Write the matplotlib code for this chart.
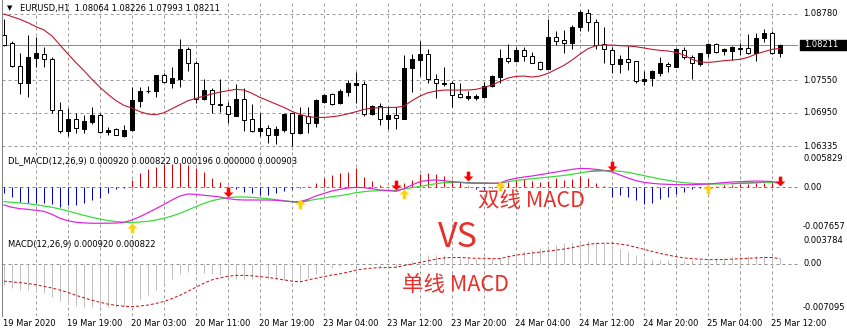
import matplotlib
matplotlib.use("Agg")
import matplotlib.pyplot as plt
from matplotlib.path import Path
from matplotlib.patches import Rectangle
from matplotlib.lines import Line2D
import matplotlib.transforms as mtransforms
import numpy as np

plt.rcParams['lines.scale_dashes'] = False
plt.rcParams['font.family'] = ['DejaVu Sans']

# ---------------- data ----------------
opens = [1.08391, 1.08249, 1.07817, 1.07497, 1.07972, 1.08039, 1.07941, 1.07003, 1.06620, 1.06837,
         1.06651, 1.06787, 1.06911, 1.06602, 1.06657, 1.06522, 1.06633, 1.07176, 1.07361, 1.07361,
         1.07651, 1.07509, 1.07583, 1.08126, 1.07879, 1.07200, 1.07373, 1.07089, 1.07077, 1.06899,
         1.07200, 1.06837, 1.06608, 1.06670, 1.06534, 1.06633, 1.06941, 1.06583, 1.06892, 1.06756,
         1.07157, 1.07300, 1.07126, 1.07343, 1.07472, 1.07484, 1.06929, 1.07077, 1.06830, 1.06911,
         1.06837, 1.07774, 1.07928, 1.08039, 1.07571, 1.07497, 1.07497, 1.07293, 1.07231, 1.07219,
         1.07237, 1.07447, 1.07620, 1.07959, 1.07916, 1.08114, 1.08002, 1.07885, 1.07762, 1.08348,
         1.08299, 1.08237, 1.08533, 1.08805, 1.08638, 1.08225, 1.08114, 1.07848, 1.07941, 1.07910,
         1.07540, 1.07589, 1.07694, 1.07854, 1.07805, 1.08114, 1.07978, 1.07854, 1.08052, 1.08218,
         1.08095, 1.08101, 1.08144, 1.08157, 1.08064, 1.08329, 1.08422, 1.08064]
highs = [1.08687, 1.08286, 1.08052, 1.08391, 1.08348, 1.08163, 1.07990, 1.07157, 1.07034, 1.06941,
         1.06911, 1.07052, 1.06941, 1.06694, 1.06670, 1.06725, 1.07435, 1.07423, 1.07447, 1.07651,
         1.07694, 1.07805, 1.08311, 1.08175, 1.07916, 1.07571, 1.07404, 1.07583, 1.07157, 1.07484,
         1.07404, 1.07114, 1.06941, 1.06725, 1.06707, 1.06941, 1.06954, 1.07052, 1.07065, 1.07200,
         1.07300, 1.07312, 1.07386, 1.07558, 1.07700, 1.07540, 1.07096, 1.07126, 1.07077, 1.07052,
         1.08021, 1.08033, 1.08280, 1.08126, 1.07669, 1.07805, 1.07540, 1.07497, 1.07361, 1.07300,
         1.07527, 1.07651, 1.08126, 1.08225, 1.08175, 1.08175, 1.08083, 1.07916, 1.08681, 1.08471,
         1.08484, 1.08576, 1.08854, 1.08866, 1.08681, 1.08533, 1.08175, 1.08021, 1.08188, 1.07916,
         1.07731, 1.07743, 1.07978, 1.07898, 1.08144, 1.08163, 1.08021, 1.08064, 1.08249, 1.08237,
         1.08157, 1.08188, 1.08237, 1.08410, 1.08422, 1.08496, 1.08471, 1.08226]
lows = [1.08188, 1.07805, 1.07300, 1.07250, 1.07805, 1.07805, 1.06941, 1.06583, 1.06522, 1.06571,
        1.06571, 1.06744, 1.06571, 1.06540, 1.06534, 1.06509, 1.06620, 1.07065, 1.07312, 1.07250,
        1.07497, 1.07404, 1.07423, 1.07731, 1.07126, 1.07188, 1.06941, 1.06972, 1.06756, 1.06892,
        1.06620, 1.06602, 1.06522, 1.06386, 1.06373, 1.06602, 1.06336, 1.06559, 1.06571, 1.06682,
        1.07126, 1.07096, 1.07114, 1.07262, 1.07139, 1.06892, 1.06911, 1.06725, 1.06645, 1.06645,
        1.06830, 1.07343, 1.07632, 1.07497, 1.07231, 1.07447, 1.07052, 1.07219, 1.07188, 1.07188,
        1.07219, 1.07435, 1.07509, 1.07867, 1.07898, 1.07916, 1.07867, 1.07743, 1.07756, 1.08206,
        1.08064, 1.08126, 1.08471, 1.08471, 1.08126, 1.07879, 1.07682, 1.07694, 1.07743, 1.07509,
        1.07466, 1.07447, 1.07632, 1.07712, 1.07805, 1.07941, 1.07577, 1.07817, 1.07978, 1.08064,
        1.08021, 1.07928, 1.08021, 1.08039, 1.07916, 1.08268, 1.08033, 1.07993]
closes = [1.08206, 1.07817, 1.07497, 1.07990, 1.08052, 1.07941, 1.07003, 1.06620, 1.06837, 1.06664,
          1.06799, 1.06911, 1.06590, 1.06633, 1.06540, 1.06633, 1.07188, 1.07355, 1.07355, 1.07651,
          1.07521, 1.07595, 1.08132, 1.07867, 1.07200, 1.07373, 1.07114, 1.07108, 1.06929, 1.07200,
          1.06818, 1.06614, 1.06670, 1.06540, 1.06651, 1.06929, 1.06583, 1.06911, 1.06768, 1.07188,
          1.07281, 1.07114, 1.07361, 1.07497, 1.07497, 1.06923, 1.07077, 1.06830, 1.06911, 1.06849,
          1.07774, 1.07947, 1.08039, 1.07571, 1.07497, 1.07478, 1.07281, 1.07250, 1.07262, 1.07262,
          1.07447, 1.07632, 1.07959, 1.07910, 1.08114, 1.08002, 1.07879, 1.07762, 1.08348, 1.08286,
          1.08237, 1.08533, 1.08823, 1.08638, 1.08206, 1.08126, 1.07848, 1.07941, 1.07898, 1.07540,
          1.07571, 1.07725, 1.07867, 1.07817, 1.08126, 1.07978, 1.07867, 1.08052, 1.08218, 1.08083,
          1.08126, 1.08163, 1.08138, 1.08064, 1.08329, 1.08422, 1.08052, 1.08211]
ma = [1.08780, 1.08731, 1.08681, 1.08619, 1.08545, 1.08484, 1.08373, 1.08206, 1.08039, 1.07879,
      1.07731, 1.07571, 1.07423, 1.07293, 1.07176, 1.07089, 1.07040, 1.06972, 1.06929, 1.06917,
      1.06954, 1.07028, 1.07102, 1.07176, 1.07219, 1.07262, 1.07300, 1.07336, 1.07361, 1.07386,
      1.07373, 1.07312, 1.07237, 1.07176, 1.07114, 1.07052, 1.06978, 1.06923, 1.06880, 1.06867,
      1.06867, 1.06880, 1.06899, 1.06935, 1.06972, 1.07015, 1.07040, 1.07046, 1.07052, 1.07052,
      1.07077, 1.07176, 1.07262, 1.07324, 1.07355, 1.07373, 1.07373, 1.07373, 1.07373, 1.07386,
      1.07423, 1.07466, 1.07534, 1.07595, 1.07626, 1.07632, 1.07614, 1.07632, 1.07682, 1.07756,
      1.07830, 1.07928, 1.08039, 1.08138, 1.08194, 1.08206, 1.08206, 1.08194, 1.08188, 1.08175,
      1.08151, 1.08126, 1.08107, 1.08095, 1.08070, 1.08021, 1.07941, 1.07891, 1.07885, 1.07898,
      1.07916, 1.07928, 1.07941, 1.07978, 1.08039, 1.08083, 1.08126, 1.08144]

macd = [-0.00347, -0.00393, -0.00420, -0.00433, -0.00453, -0.00473, -0.00532, -0.00611, -0.00660, -0.00690,
        -0.00702, -0.00709, -0.00709, -0.00708, -0.00705, -0.00690, -0.00645, -0.00578, -0.00499, -0.00420,
        -0.00334, -0.00248, -0.00169, -0.00129, -0.00136, -0.00155, -0.00169, -0.00188, -0.00221, -0.00241,
        -0.00248, -0.00248, -0.00248, -0.00248, -0.00254, -0.00268, -0.00281, -0.00281, -0.00235, -0.00169,
        -0.00116, -0.00069, -0.00036, -0.00010, 0.00003, -0.00003, -0.00023, -0.00050, -0.00060, -0.00076,
        -0.00023, 0.00050, 0.00116, 0.00142, 0.00149, 0.00136, 0.00116, 0.00102, 0.00089, 0.00083,
        0.00083, 0.00083, 0.00089, 0.00149, 0.00182, 0.00208, 0.00228, 0.00254, 0.00281, 0.00307,
        0.00334, 0.00360, 0.00378, 0.00375, 0.00360, 0.00340, 0.00307, 0.00248, 0.00188, 0.00136,
        0.00102, 0.00083, 0.00069, 0.00063, 0.00056, 0.00056, 0.00056, 0.00063, 0.00069, 0.00083,
        0.00096, 0.00109, 0.00116, 0.00122, 0.00129, 0.00125, 0.00118, 0.00092]
signal = [-0.00281, -0.00294, -0.00307, -0.00321, -0.00340, -0.00367, -0.00393, -0.00426, -0.00466, -0.00512,
          -0.00552, -0.00592, -0.00625, -0.00655, -0.00675, -0.00690, -0.00695, -0.00685, -0.00670, -0.00644,
          -0.00611, -0.00565, -0.00512, -0.00446, -0.00380, -0.00314, -0.00261, -0.00228, -0.00202, -0.00188,
          -0.00188, -0.00195, -0.00208, -0.00221, -0.00241, -0.00261, -0.00281, -0.00294, -0.00261, -0.00235,
          -0.00208, -0.00182, -0.00162, -0.00136, -0.00102, -0.00083, -0.00069, -0.00063, -0.00060, -0.00056,
          -0.00030, -0.00003, 0.00023, 0.00050, 0.00076, 0.00096, 0.00102, 0.00102, 0.00096, 0.00089,
          0.00089, 0.00083, 0.00085, 0.00115, 0.00140, 0.00158, 0.00175, 0.00190, 0.00206, 0.00222,
          0.00240, 0.00262, 0.00290, 0.00315, 0.00330, 0.00334, 0.00334, 0.00321, 0.00301, 0.00268,
          0.00235, 0.00202, 0.00169, 0.00142, 0.00116, 0.00096, 0.00083, 0.00076, 0.00069, 0.00069,
          0.00069, 0.00076, 0.00083, 0.00089, 0.00096, 0.00102, 0.00102, 0.000822]
dl_hist = [-0.00102, -0.00182, -0.00281, -0.00301, -0.00314, -0.00314, -0.00327, -0.00380, -0.00347, -0.00347,
           -0.00314, -0.00248, -0.00215, -0.00116, -0.00036, -0.00017, 0.00149, 0.00281, 0.00360, 0.00413,
           0.00466, 0.00466, 0.00479, 0.00446, 0.00380, 0.00314, 0.00182, 0.00102, 0.00030, -0.00036,
           -0.00083, -0.00116, -0.00149, -0.00149, -0.00102, -0.00063, -0.00023, -0.00003, 0.00030, 0.00083,
           0.00182, 0.00248, 0.00281, 0.00314, 0.00380, 0.00215, 0.00136, 0.00050, 0.00017, -0.00017,
           0.00083, 0.00149, 0.00268, 0.00281, 0.00268, 0.00228, 0.00149, 0.00116, 0.00030, -0.00023,
           -0.00036, -0.00017, 0.00003, 0.00116, 0.00149, 0.00162, 0.00136, 0.00116, 0.00136, 0.00182,
           0.00149, 0.00162, 0.00228, 0.00182, 0.00096, 0.00030, -0.00182, -0.00149, -0.00182, -0.00248,
           -0.00327, -0.00301, -0.00235, -0.00182, -0.00129, -0.00083, -0.00036, -0.00017, -0.00003, 0.00030,
           0.00043, 0.00056, 0.00063, 0.00063, 0.00083, 0.00096, 0.00083, 0.000196]

sell_bar = [28, 49, 58, 76, 97]
sell_val = [-0.00089, 0.00059, 0.00228, 0.00430, 0.00125]
buy_bar = [16, 37, 50, 62, 88]
buy_val = [-0.00809, -0.00337, -0.00125, 0.00030, -0.00030]
gray_from = [36, 56, 73, 91]
gray_to = [38, 61, 76, 95]

price_levels = [1.08780, 1.07550, 1.06950, 1.06335]
price_labels = ["1.08780", "1.07550", "1.06950", "1.06335"]
bid = 1.08211
dl_levels = [0.005829, 0.0, -0.007657]
dl_labels = ["0.005829", "0.00", "-0.007657"]
m_levels = [0.003784, 0.0, -0.007095]
m_labels = ["0.003784", "0.00", "-0.007095"]

time_bars = [8, 16, 24, 32, 40, 48, 56, 64, 72, 80, 88, 96]
time_labels = ["19 Mar 19:00", "20 Mar 03:00", "20 Mar 11:00", "20 Mar 19:00", "23 Mar 04:00",
               "23 Mar 12:00", "23 Mar 20:00", "24 Mar 04:00", "24 Mar 12:00", "24 Mar 20:00",
               "25 Mar 04:00", "25 Mar 12:00"]
first_label = "19 Mar 2020"
grid_bars = list(range(4, 100, 4))

main_title = "EURUSD,H1  1.08064 1.08226 1.07993 1.08211"
dl_title = "DL_MACD(12,26,9) 0.000920 0.000822 0.000196 0.000000 0.000903"
m_title = "MACD(12,26,9) 0.000920 0.000822"

# ---------------- figure ----------------
W, H = 847, 332
PX = 0.72          # points per pixel at dpi 100
fig = plt.figure(figsize=(W / 100, H / 100), dpi=100)
fig.patch.set_facecolor("white")

X0, X1 = 2, 798
def add_ax(y0, y1, ylim):
    ax = fig.add_axes([X0 / W, 1 - y1 / H, (X1 - X0) / W, (y1 - y0) / H])
    ax.set_axis_off()
    ax.set_xlim(-0.25, 99.25)
    ax.set_ylim(*ylim)
    return ax

ax_p = add_ax(0, 150, (1.06264, 1.09039))
ax_d = add_ax(150, 233, (-0.009023, 0.007436))
ax_m = add_ax(233, 316, (-0.008477, 0.005002))

GRID = "#9a9a9a"
DASH = (0, (3 * PX, 3 * PX))
FS = 6

for ax in (ax_p, ax_d, ax_m):
    for g in grid_bars:
        ax.axvline(g, color=GRID, lw=PX, linestyle=DASH, zorder=1)

def right_label(ax, val, text):
    ax.annotate(text, xy=(1, val), xycoords=("axes fraction", "data"),
                xytext=(5 * PX, 0), textcoords="offset points", ha="left", va="center",
                fontsize=FS, annotation_clip=False)

# price panel
k = np.arange(len(closes))
o = np.array(opens); c = np.array(closes); hi = np.array(highs); lo = np.array(lows)
for lv, lb in zip(price_levels, price_labels):
    ax_p.axhline(lv, color=GRID, lw=PX, linestyle=DASH, zorder=1)
    right_label(ax_p, lv, lb)
ax_p.axhline(bid, color="#8c8c8c", lw=PX, zorder=1)
ax_p.vlines(k, lo, hi, color="black", lw=PX, zorder=3)
bull = c > o
ax_p.bar(k, np.maximum(np.abs(c - o), 0.00002), bottom=np.minimum(o, c), width=0.5,
         color=np.where(bull, "black", "white"), edgecolor="black", linewidth=PX, zorder=4)
ax_p.plot(k, ma, color="#c0152a", lw=PX * 1.1, zorder=5)

blend = mtransforms.blended_transform_factory(fig.transFigure, ax_p.transData)
ax_p.add_artist(Rectangle((800 / W, bid - 0.00095), 47 / W, 0.0019, transform=blend,
                          color="black", clip_on=False, zorder=6))
ax_p.annotate(f"{bid:.5f}", xy=(1, bid), xycoords=("axes fraction", "data"),
              xytext=(6 * PX, 0), textcoords="offset points", ha="left", va="center",
              fontsize=FS, color="white", annotation_clip=False, zorder=7)
ax_p.annotate(main_title, xy=(0, 1), xycoords="axes fraction", xytext=(18 * PX, -8 * PX),
              textcoords="offset points", ha="left", va="center", fontsize=FS)
ax_p.annotate("\u25BC", xy=(0, 1), xycoords="axes fraction", xytext=(5 * PX, -8.5 * PX),
              textcoords="offset points", ha="left", va="center", fontsize=5)

# DL_MACD panel
h = np.array(dl_hist)
ax_d.axhline(0, color="#808080", lw=PX, linestyle=DASH, zorder=1)
ax_d.vlines(k, 0, h, colors=np.where(h >= 0, "#dd0000", "#0000cc"), lw=PX, zorder=2)
ax_d.plot(k, signal, color="#33dd33", lw=PX * 1.2, zorder=3)
ax_d.plot(k, macd, color="#e020e0", lw=PX * 1.2, zorder=4)
sig = np.array(signal)
for a, b in zip(gray_from, gray_to):
    ax_d.plot(k[a:b + 1], sig[a:b + 1], color="#808080", lw=PX * 1.2, zorder=5)
for lv, lb in zip(dl_levels, dl_labels):
    right_label(ax_d, lv, lb)

down = Path([(-0.18, 0.5), (0.18, 0.5), (0.18, 0.0), (0.5, 0.0), (0.0, -0.5), (-0.5, 0.0),
             (-0.18, 0.0), (-0.18, 0.5)],
            [Path.MOVETO] + [Path.LINETO] * 6 + [Path.CLOSEPOLY])
up = Path([(x, -y) for x, y in down.vertices], down.codes)
ax_d.plot(sell_bar, sell_val, linestyle="none", marker=down, markersize=7, color="#ff0000",
          markeredgewidth=0, zorder=6, clip_on=False)
ax_d.plot(buy_bar, buy_val, linestyle="none", marker=up, markersize=7, color="#ffd200",
          markeredgewidth=0, zorder=6, clip_on=False)
ax_d.annotate(dl_title, xy=(0, 1), xycoords="axes fraction", xytext=(6 * PX, -11 * PX),
              textcoords="offset points", ha="left", va="center", fontsize=FS)

# MACD panel
ax_m.axhline(0, color="#909090", lw=PX, linestyle=DASH, zorder=1)
ax_m.vlines(k, 0, macd, color="#c0c0c0", lw=PX, zorder=2)
ax_m.plot(k, signal, color="#cc1111", lw=PX, linestyle=(0, (3 * PX, 2 * PX)), zorder=3)
for lv, lb in zip(m_levels, m_labels):
    right_label(ax_m, lv, lb)
ax_m.annotate(m_title, xy=(0, 1), xycoords="axes fraction", xytext=(6 * PX, -11 * PX),
              textcoords="offset points", ha="left", va="center", fontsize=FS)

# time axis
ax_m.annotate(first_label, xy=(0, 0), xycoords="axes fraction", xytext=(1 * PX, -7 * PX),
              textcoords="offset points", ha="left", va="center", fontsize=FS)
for tb, tl in zip(time_bars, time_labels):
    ax_m.annotate(tl, xy=(tb, 0), xycoords=("data", "axes fraction"), xytext=(-1 * PX, -7 * PX),
                  textcoords="offset points", ha="left", va="center", fontsize=FS,
                  annotation_clip=False)

# left border
fig.add_artist(Line2D([1.5 / W, 1.5 / W], [1 - 316 / H, 1], transform=fig.transFigure,
                      color="#808080", lw=PX))

# annotations
CJK = ["Noto Sans CJK SC", "DejaVu Sans"]
RED = "#e8302a"
fig.text(478 / W, 1 - 207 / H, "双线 MACD", fontsize=15.5, color=RED, family=CJK,
         fontweight="light", ha="left", va="baseline")
fig.text(438 / W, 1 - 247 / H, "VS", fontsize=24.5, color=RED, family=CJK,
         fontweight="light", ha="left", va="baseline")
fig.text(402 / W, 1 - 291 / H, "单线 MACD", fontsize=15.5, color=RED, family=CJK,
         fontweight="light", ha="left", va="baseline")

fig.savefig("out.png", dpi=100)
